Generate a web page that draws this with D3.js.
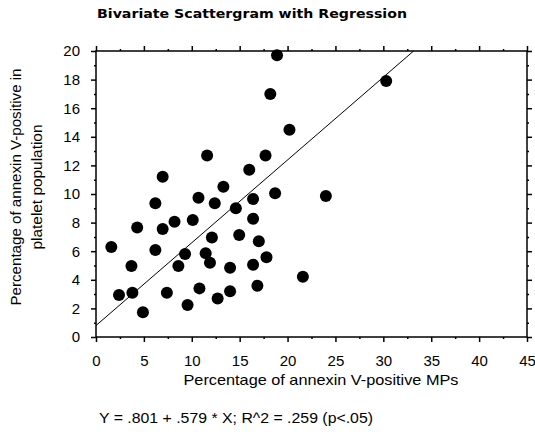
<!DOCTYPE html>
<html>
<head>
<meta charset="utf-8">
<script src="https://cdn.jsdelivr.net/npm/d3@7"></script>
<style>
  body { margin: 0; background: #fff; }
  svg { font-family: "Liberation Sans", Arial, sans-serif; }
  .domain { display: none; }
</style>
</head>
<body>
<div id="chart"></div>
<script>
// Chart size
var svgWidth = 535;
var svgHeight = 436;

// Plot frame edges
var margin = { top: 51, right: 8, bottom: 99, left: 96 };
var plotWidth = svgWidth - margin.left - margin.right;
var plotHeight = svgHeight - margin.top - margin.bottom;

// Data
var mpsPct = [18.9, 18.2, 20.2, 11.6, 17.7, 6.96, 16.0, 13.3, 18.7, 10.7, 6.2,
  12.4, 16.4, 14.6, 16.4, 4.3, 6.96, 8.2, 10.1, 12.1, 14.95, 17.0, 1.6, 6.2,
  9.3, 11.45, 11.9, 8.6, 3.7, 14.0, 16.4, 17.8, 21.6, 2.4, 3.8, 7.4, 10.8,
  14.0, 16.85, 12.7, 9.56, 4.9, 30.3, 24.0];
var plateletPct = [19.7, 17.0, 14.5, 12.7, 12.7, 11.2, 11.7, 10.5, 10.05, 9.74, 9.35,
  9.35, 9.65, 9.0, 8.27, 7.65, 7.55, 8.06, 8.18, 6.95, 7.13, 6.7, 6.3, 6.08,
  5.8, 5.85, 5.2, 4.96, 4.96, 4.85, 5.06, 5.57, 4.22, 2.94, 3.1, 3.1, 3.4,
  3.2, 3.59, 2.7, 2.24, 1.73, 17.9, 9.86];

// Regression coefficients
var intercept = 0.801;
var slope = 0.579;

var xMajorTicks = d3.range(0, 46, 5);
var xMinorTicks = d3.range(2.5, 45, 5);
var yMajorTicks = d3.range(0, 21, 2);
var yMinorTicks = d3.range(1, 20, 2);

var svg = d3.select("#chart")
            .append("svg")
            .attr("width", svgWidth)
            .attr("height", svgHeight);

var x = d3.scaleLinear().domain([0, 45]).range([0, plotWidth]);
var y = d3.scaleLinear().domain([0, 20]).range([plotHeight, 0]);

var chartGroup = svg.append("g")
                    .attr("transform", `translate(${margin.left}, ${margin.top})`);

// Title
svg.append("text")
   .attr("x", 252)
   .attr("y", 18)
   .attr("text-anchor", "middle")
   .attr("font-family", "'DejaVu Sans', sans-serif")
   .attr("font-size", "13px")
   .attr("font-weight", "bold")
   .attr("textLength", 310)
   .attr("lengthAdjust", "spacingAndGlyphs")
   .text("Bivariate Scattergram with Regression");

// Frame
chartGroup.append("rect")
          .attr("width", plotWidth)
          .attr("height", plotHeight)
          .attr("fill", "none")
          .attr("stroke", "#000")
          .attr("stroke-width", 1.5);

// Tick helper: draws major ticks with labels, then minor ticks
function drawAxis(axisFn, scale, major, minor, transform, labels, pad) {
  var g = chartGroup.append("g").attr("transform", transform);
  g.append("g")
   .call(axisFn(scale).tickValues(major).tickSize(5).tickPadding(pad)
     .tickFormat(labels ? d3.format("d") : ""));
  g.append("g")
   .call(axisFn(scale).tickValues(minor).tickSize(2).tickFormat(""));
  g.selectAll("line").attr("stroke", "#000").attr("stroke-width", 1.5);
  g.selectAll("text").attr("font-size", "15px").attr("fill", "#000");
  return g;
}

drawAxis(d3.axisBottom, x, xMajorTicks, xMinorTicks, `translate(0, ${plotHeight})`, true, 13);
drawAxis(d3.axisTop, x, xMajorTicks, xMinorTicks, "translate(0, 0)", false, 0);
drawAxis(d3.axisLeft, y, yMajorTicks, yMinorTicks, "translate(0, 0)", true, 11);
drawAxis(d3.axisRight, y, yMajorTicks, yMinorTicks, `translate(${plotWidth}, 0)`, false, 0);

// Regression line, clipped to the frame
var xEnd = Math.min(45, (20 - intercept) / slope);
chartGroup.append("line")
          .attr("x1", x(0))
          .attr("y1", y(intercept))
          .attr("x2", x(xEnd))
          .attr("y2", y(intercept + slope * xEnd))
          .attr("stroke", "#000")
          .attr("stroke-width", 1);

// Points
chartGroup.selectAll("circle")
          .data(mpsPct)
          .enter()
          .append("circle")
          .attr("cx", d => x(d))
          .attr("cy", (d, i) => y(plateletPct[i]))
          .attr("r", 6)
          .attr("fill", "#000");

// Axis titles
svg.append("text")
   .attr("x", 321)
   .attr("y", 385)
   .attr("text-anchor", "middle")
   .attr("font-size", "15px")
   .attr("textLength", 275)
   .attr("lengthAdjust", "spacingAndGlyphs")
   .text("Percentage of annexin V-positive MPs");

var yTitle = svg.append("text")
   .attr("transform", "translate(21, 187) rotate(-90)")
   .attr("text-anchor", "middle")
   .attr("font-size", "14px");
yTitle.append("tspan").attr("x", 0).attr("y", 0)
      .attr("textLength", 237).attr("lengthAdjust", "spacingAndGlyphs")
      .text("Percentage of annexin V-positive in");
yTitle.append("tspan").attr("x", 0).attr("y", 21)
      .attr("textLength", 125).attr("lengthAdjust", "spacingAndGlyphs")
      .text("platelet population");

// Equation
svg.append("text")
   .attr("x", 99)
   .attr("y", 423)
   .attr("font-size", "15px")
   .attr("textLength", 274)
   .attr("lengthAdjust", "spacingAndGlyphs")
   .text("Y = .801 + .579 * X; R^2 = .259 (p<.05)");
</script>
</body>
</html>
